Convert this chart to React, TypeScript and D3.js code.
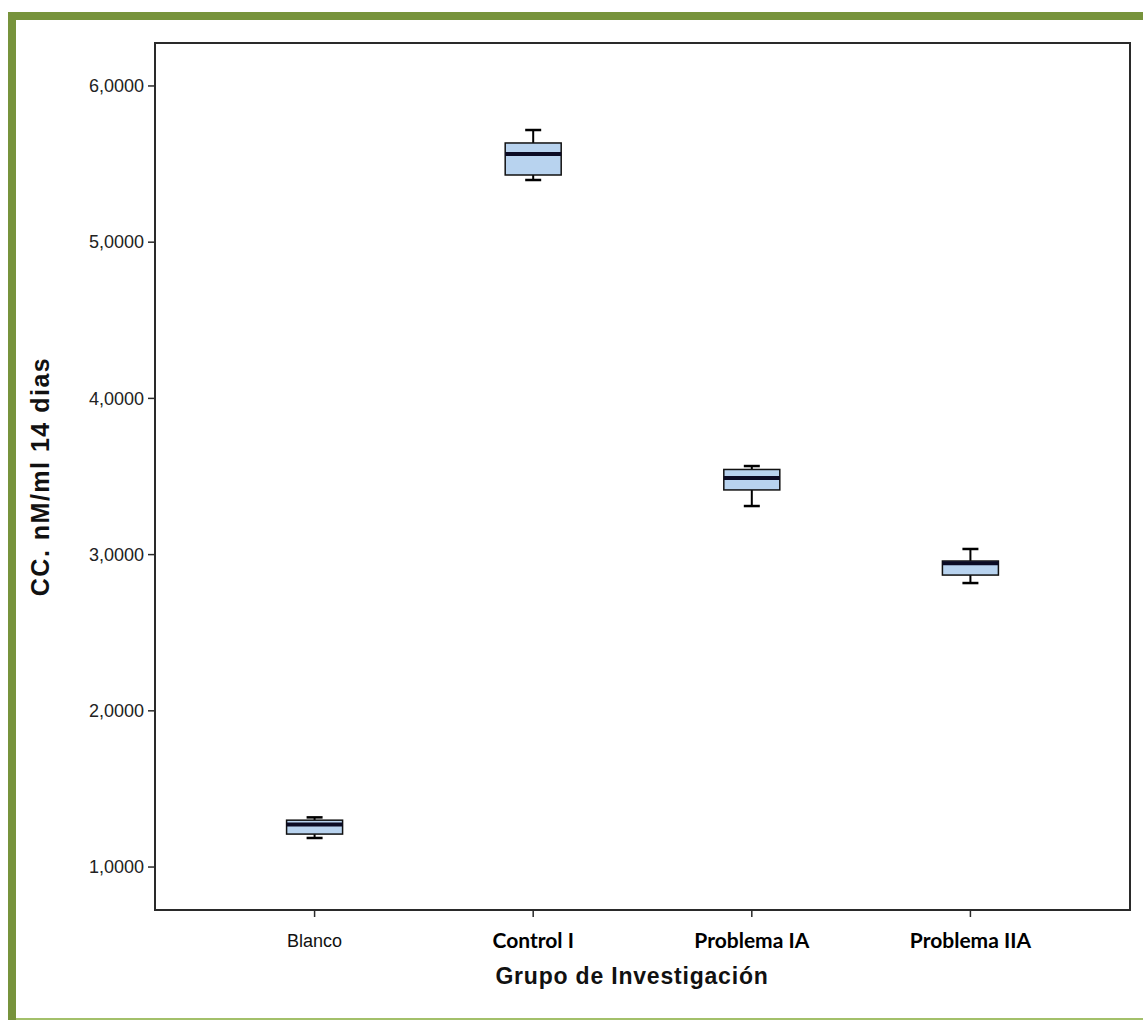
import * as d3 from 'd3';

const categories = ['Blanco', 'Control I', 'Problema IA', 'Problema IIA'];
const whiskerLow = [1.186, 5.398, 3.311, 2.818];
const q1 = [1.211, 5.43, 3.414, 2.869];
const median = [1.272, 5.565, 3.49, 2.945];
const q3 = [1.3, 5.635, 3.545, 2.959];
const whiskerHigh = [1.318, 5.718, 3.567, 3.036];
const yTicks = [1, 2, 3, 4, 5, 6];
const yTickLabels = ['1,0000', '2,0000', '3,0000', '4,0000', '5,0000', '6,0000'];

const W = 1143;
const H = 1021;
const frame = { left: 155, top: 43, right: 1130, bottom: 910 };

export default function App() {
  const y = d3.scaleLinear().domain([0.725, 6.275]).range([frame.bottom, frame.top]);
  const x = d3.scalePoint<string>().domain(categories).range([frame.left, frame.right]).padding(0.73);
  const boxW = 56;
  const capW = 16;
  const sans = '"Liberation Sans", Arial, sans-serif';

  return (
    <svg width={W} height={H} style={{ position: 'absolute', left: 0, top: 0, background: '#fff' }}>
      {/* green page frame */}
      <rect x={8} y={12} width={W - 8} height={8} fill="#77933c" />
      <rect x={8} y={12} width={8} height={1008} fill="#77933c" />
      <rect x={16} y={1018} width={W - 16} height={2} fill="#a3c06a" />

      {/* plot frame */}
      <rect
        x={frame.left}
        y={frame.top}
        width={frame.right - frame.left}
        height={frame.bottom - frame.top}
        fill="none"
        stroke="#2a2a2a"
        strokeWidth={2}
      />

      {/* y axis */}
      {yTicks.map((t, i) => (
        <g key={t} transform={`translate(0,${y(t)})`}>
          <line x1={frame.left - 7} x2={frame.left} stroke="#2a2a2a" strokeWidth={1.5} />
          <text x={frame.left - 11} dy="0.35em" textAnchor="end" fontFamily={sans} fontSize={18} fill="#222">
            {yTickLabels[i]}
          </text>
        </g>
      ))}

      {/* x axis */}
      {categories.map((c, i) => (
        <g key={c} transform={`translate(${x(c)},0)`}>
          <line y1={frame.bottom} y2={frame.bottom + 7} stroke="#2a2a2a" strokeWidth={1.5} />
          {i === 0 ? (
            <text y={frame.bottom + 37} textAnchor="middle" fontFamily={sans} fontSize={18} fill="#111">
              {c}
            </text>
          ) : (
            <text y={frame.bottom + 38} textAnchor="middle" fontFamily="Lato, sans-serif" fontWeight="bold" fontSize={21} fill="#000">
              {c}
            </text>
          )}
        </g>
      ))}

      {/* boxes */}
      {categories.map((c, i) => {
        const cx = x(c) as number;
        return (
          <g key={c}>
            <line x1={cx} x2={cx} y1={y(whiskerHigh[i])} y2={y(q3[i])} stroke="#000" strokeWidth={2} />
            <line x1={cx} x2={cx} y1={y(q1[i])} y2={y(whiskerLow[i])} stroke="#000" strokeWidth={2} />
            <line x1={cx - capW / 2} x2={cx + capW / 2} y1={y(whiskerHigh[i])} y2={y(whiskerHigh[i])} stroke="#000" strokeWidth={2.5} />
            <line x1={cx - capW / 2} x2={cx + capW / 2} y1={y(whiskerLow[i])} y2={y(whiskerLow[i])} stroke="#000" strokeWidth={2.5} />
            <rect
              x={cx - boxW / 2}
              y={y(q3[i])}
              width={boxW}
              height={y(q1[i]) - y(q3[i])}
              fill="#b8d3ef"
              stroke="#111"
              strokeWidth={1.5}
            />
            <line x1={cx - boxW / 2} x2={cx + boxW / 2} y1={y(median[i])} y2={y(median[i])} stroke="#0b0b24" strokeWidth={4} />
          </g>
        );
      })}

      {/* axis titles */}
      <text
        transform={`translate(49,${(frame.top + frame.bottom) / 2}) rotate(-90)`}
        textAnchor="middle"
        fontFamily={sans}
        fontWeight="bold"
        fontSize={25}
        letterSpacing={1.5}
        fill="#111"
      >
        CC. nM/ml 14 dias
      </text>
      <text x={632} y={984} textAnchor="middle" fontFamily={sans} fontWeight="bold" fontSize={23} letterSpacing={0.8} fill="#111">
        Grupo de Investigación
      </text>
    </svg>
  );
}
